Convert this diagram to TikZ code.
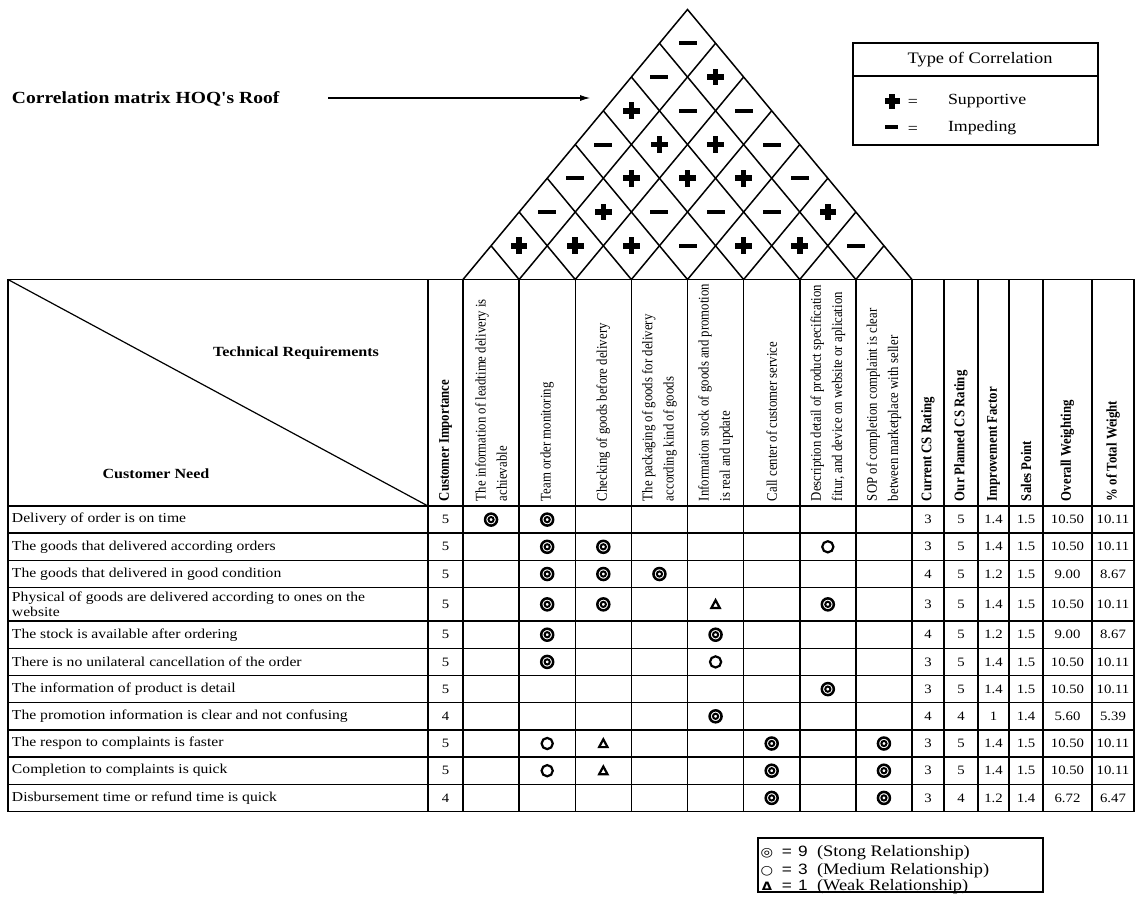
\documentclass[tikz,border=0pt]{standalone}
\usepackage{fontspec}
\setmainfont{Liberation Serif}
\newfontfamily\hqsans{Liberation Sans}
\newfontfamily\hqdeja{DejaVu Sans}
\usetikzlibrary{arrows.meta}
\newcommand\hqplus[4]{\fill (#1,#2) ++(-#3,-#4) rectangle ++(2*#3,2*#4); \fill (#1,#2) ++(-#4,-#3) rectangle ++(2*#4,2*#3);}
\newcommand\hqminus[4]{\fill (#1,#2) ++(-#3,-#4) rectangle ++(2*#3,2*#4);}
\newcommand\hqstrong[2]{\draw[line width=2.5pt] (#1,#2) circle[radius=6.0]; \draw[line width=2pt] (#1,#2) circle[radius=2.6];}
\newcommand\hqmedium[2]{\draw[line width=2.2pt] (#1,#2) circle[radius=5.6];}
\newcommand\hqweak[2]{\draw[line width=2.2pt, line join=miter] (#1,#2) ++(0,-4.2) -- ++(4.2,7.8) -- ++(-8.4,0) -- cycle;}
\begin{document}
\begin{tikzpicture}[x=0.869565pt, y=-1pt, xscale=1.15,
  every node/.append style={transform shape, inner sep=0pt, outer sep=0pt},
  gridline/.style={line width=1.5pt, line cap=rect},
  needtxt/.style={anchor=west, align=left, font=\fontsize{13.6}{15}\selectfont},
  numtxt/.style={font=\fontsize{12.8}{15}\selectfont},
  techhead/.style={rotate=90, anchor=west, align=left, font=\fontsize{12.8}{18.5}\selectfont},
  boldhead/.style={rotate=90, anchor=west, font=\bfseries\fontsize{12.8}{15}\selectfont},
  cornerhead/.style={font=\bfseries\fontsize{14}{16}\selectfont},
  legtxt/.style={font=\fontsize{15.5}{18}\selectfont},
  legbig/.style={anchor=base west, font=\fontsize{16}{18}\selectfont},
  legsans/.style={anchor=base, font=\hqsans\fontsize{15}{18}\selectfont},
  legsym/.style={anchor=base, font=\hqdeja\fontsize{12.5}{14}\selectfont},
]
\fill[white] (0,0) rectangle (1136,922);
\useasboundingbox (0,0) rectangle (1136,922);

% ---------- title and arrow ----------
\node[anchor=west, font=\bfseries\fontsize{17}{20}\selectfont] (title) at (12,99) {Correlation matrix HOQ\textquotesingle s Roof};
\coordinate (arrstart) at (328,98);
\coordinate (rooftarget) at (590,98);
\draw[line width=1.1pt, -{Latex[length=10pt,width=6pt]}] (arrstart) -- (rooftarget);

% ---------- roof ----------
\draw[gridline, line join=miter, line cap=butt] (463,279.5) -- (687.5,9.5) -- (912,279.5);
\foreach \i in {1,...,7}{
  \draw[gridline, line join=miter, line cap=butt] (463+28.0625*\i,279.5-33.75*\i) -- (463+56.125*\i,279.5) -- (463+28.0625*\i+224.5,9.5+33.75*\i);
}
\foreach \r/\lst in {1/{1,1,1,0,1,1,0}, 2/{0,1,0,0,0,1}, 3/{0,1,1,1,0}, 4/{0,1,1,0}, 5/{1,0,0}, 6/{0,1}, 7/{0}}{
  \foreach \s [count=\k] in \lst {
    \pgfmathsetmacro\cx{463+28.0625*(2*\k+\r-1)}
    \pgfmathsetmacro\cy{279.5-33.75*\r}
    \ifnum\s=1 \hqplus{\cx}{\cy}{8.3}{2.8}\else\hqminus{\cx}{\cy}{9}{2}\fi
  }
}

% ---------- correlation legend ----------
\draw[gridline] (853,43) rectangle (1098,145);
\draw[gridline] (853,76) -- (1098,76);
\node[legtxt, font=\fontsize{16}{18}\selectfont] (corrtitle) at (980,60) {Type of Correlation};
\hqplus{892}{101}{7.5}{2.6}
\node[legtxt] (eqa) at (913,103) {=};
\node[legtxt, anchor=west] (supp) at (948,101) {Supportive};
\hqminus{891}{127}{6.5}{2.1}
\node[legtxt] (eqb) at (913,130) {=};
\node[legtxt, anchor=west] (imped) at (948,128) {Impeding};

% ---------- table grid ----------
\foreach \y in {279.5,506,533.2,560.4,587.6,621.1,648.3,675.5,702.7,729.9,757.1,784.3,811.5}
  \draw[gridline] (8,\y) -- (1134,\y);
\foreach \x in {8,428,463,519.125,575.25,631.375,687.5,743.625,799.75,855.875,912,944,978,1009,1043,1092,1134}
  \draw[gridline] (\x,279.5) -- (\x,811.5);
\draw[line width=1.2pt] (8,279.5) -- (428,506);

% ---------- header texts ----------
\node[cornerhead] (techreq) at (296,353) {Technical Requirements};
\node[cornerhead] (custneed) at (156,474) {Customer Need};
\node[boldhead] (hci) at (445.5,501) {Customer Importance};
\node[techhead] (t1) at (491.06,501) {The information of leadtime delivery is\\achievable};
\node[techhead] (t2) at (547.19,501) {Team order monitoring};
\node[techhead] (t3) at (603.31,501) {Checking of goods before delivery};
\node[techhead] (t4) at (659.44,501) {The packaging of goods for delivery\\according kind of goods};
\node[techhead] (t5) at (715.56,501) {Information stock of goods and promotion\\is real and update};
\node[techhead] (t6) at (771.69,501) {Call center of customer service};
\node[techhead] (t7) at (827.81,501) {Description detail of product specification\\fitur, and device on website or aplication};
\node[techhead] (t8) at (883.94,501) {SOP of completion complaint is clear\\between marketplace with seller};
\node[boldhead] (hcur) at (928,501) {Current CS Rating};
\node[boldhead] (hplan) at (961,501) {Our Planned CS Rating};
\node[boldhead] (himp) at (993.5,501) {Improvement Factor};
\node[boldhead] (hsp) at (1026,501) {Sales Point};
\node[boldhead] (how) at (1067.5,501) {Overall Weighting};
\node[boldhead] (hpct) at (1113,501) {\% of Total Weight};

% ---------- rows ----------
\foreach \r/\ry/\need/\ci/\cur/\pl/\imf/\spt/\ow/\pct in {
 1/519.6/{Delivery of order is on time}/5/3/5/1.4/1.5/10.50/10.11,
 2/546.8/{The goods that delivered according orders}/5/3/5/1.4/1.5/10.50/10.11,
 3/574/{The goods that delivered in good condition}/5/4/5/1.2/1.5/9.00/8.67,
 4/604.35/{Physical of goods are delivered according to ones on the\\website}/5/3/5/1.4/1.5/10.50/10.11,
 5/634.7/{The stock is available after ordering}/5/4/5/1.2/1.5/9.00/8.67,
 6/661.9/{There is no unilateral cancellation of the order}/5/3/5/1.4/1.5/10.50/10.11,
 7/689.1/{The information of product is detail}/5/3/5/1.4/1.5/10.50/10.11,
 8/716.3/{The promotion information is clear and not confusing}/4/4/4/1/1.4/5.60/5.39,
 9/743.5/{The respon to complaints is faster}/5/3/5/1.4/1.5/10.50/10.11,
 10/770.7/{Completion to complaints is quick}/5/3/5/1.4/1.5/10.50/10.11,
 11/797.9/{Disbursement time or refund time is quick}/4/3/4/1.2/1.4/6.72/6.47}{
  \node[needtxt] (need\r) at (12,\ry) {\need};
  \node[numtxt] (ci\r) at (445.5,\ry) {\ci};
  \node[numtxt] (cur\r) at (928,\ry) {\cur};
  \node[numtxt] (plan\r) at (961,\ry) {\pl};
  \node[numtxt] (imp\r) at (993.5,\ry) {\imf};
  \node[numtxt] (sp\r) at (1026,\ry) {\spt};
  \node[numtxt] (ow\r) at (1067.5,\ry) {\ow};
  \node[numtxt] (pct\r) at (1113,\ry) {\pct};
}

% ---------- relationship symbols ----------
\foreach \ry/\c/\t in {519.6/1/9, 519.6/2/9,
  546.8/2/9, 546.8/3/9, 546.8/7/3,
  574/2/9, 574/3/9, 574/4/9,
  604.35/2/9, 604.35/3/9, 604.35/5/1, 604.35/7/9,
  634.7/2/9, 634.7/5/9,
  661.9/2/9, 661.9/5/3,
  689.1/7/9,
  716.3/5/9,
  743.5/2/3, 743.5/3/1, 743.5/6/9, 743.5/8/9,
  770.7/2/3, 770.7/3/1, 770.7/6/9, 770.7/8/9,
  797.9/6/9, 797.9/8/9}{
  \pgfmathsetmacro\cx{463+56.125*(\c-0.5)}
  \ifnum\t=9 \hqstrong{\cx}{\ry}\fi
  \ifnum\t=3 \hqmedium{\cx}{\ry}\fi
  \ifnum\t=1 \hqweak{\cx}{\ry}\fi
}

% ---------- relationship legend ----------
\draw[gridline] (758,838) rectangle (1043,892);
\node[legsym] (lsa) at (767,856.5) {◎};
\node[legsans] (lea) at (787,856.5) {=};
\node[legsans] (lna) at (803,856.5) {9};
\node[legbig] (lta) at (817,856.5) {(Stong Relationship)};
\node[legsym] (lsb) at (767,874) {○};
\node[legsans] (leb) at (787,874) {=};
\node[legsans] (lnb) at (803,874) {3};
\node[legbig] (ltb) at (817,874) {(Medium Relationship)};
\node[legsym, font=\hqdeja\bfseries\fontsize{11.5}{14}\selectfont] (lsc) at (767,890.5) {Δ};
\node[legsans] (lec) at (787,890.5) {=};
\node[legsans] (lnc) at (803,890.5) {1};
\node[legbig] (ltc) at (817,890.5) {(Weak Relationship)};
\end{tikzpicture}
\end{document}
